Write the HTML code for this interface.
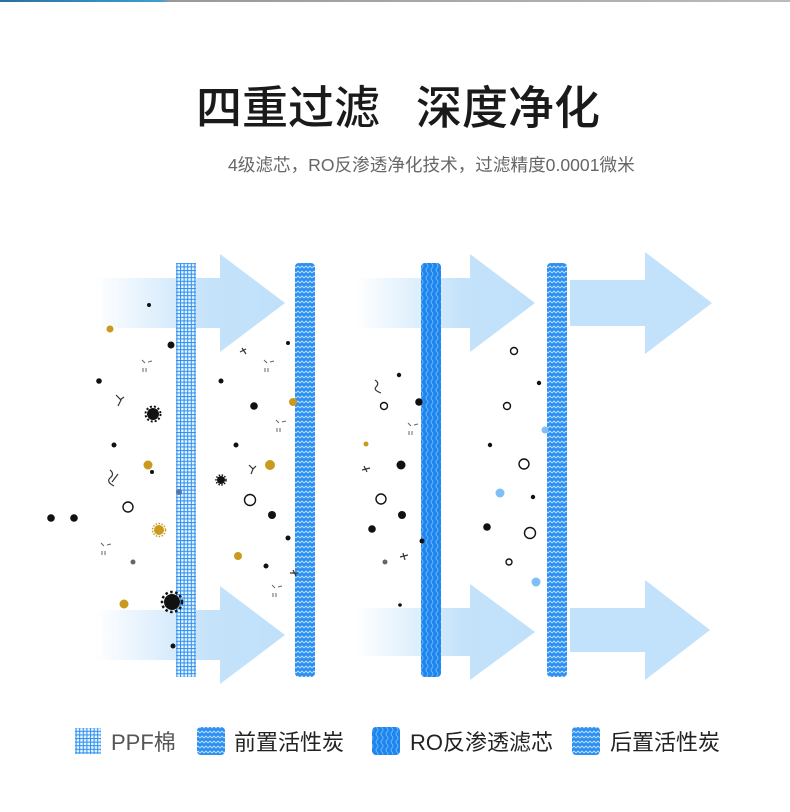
<!DOCTYPE html>
<html><head><meta charset="utf-8"><style>
html,body{margin:0;padding:0;background:#fff;}
body{width:790px;height:812px;position:relative;overflow:hidden;font-family:"Liberation Sans","Noto Sans CJK SC",sans-serif;}
.t{position:absolute;white-space:nowrap;}
</style></head><body>
<div style="position:absolute;left:0;top:0;width:790px;height:2px;background:linear-gradient(90deg,#2a6fa0 0,#3aa0d0 160px,#999 170px,#bbb 790px);"></div>
<div class="t" style="left:196px;top:80px;font-size:46px;line-height:56px;color:#1a1a1a;font-weight:500;">四重过滤</div>
<div class="t" style="left:416px;top:80px;font-size:46px;line-height:56px;color:#1a1a1a;font-weight:500;">深度净化</div>
<div class="t" style="left:228px;top:153px;font-size:17.6px;line-height:24px;color:#666;">4级滤芯，RO反渗透净化技术，过滤精度0.0001微米</div>

<svg width="790" height="812" style="position:absolute;left:0;top:0" xmlns="http://www.w3.org/2000/svg">
<defs>
<linearGradient id="fadeA" x1="0" x2="1" y1="0" y2="0">
<stop offset="0" stop-color="#c4e2fa" stop-opacity="0"/>
<stop offset="0.6" stop-color="#c4e2fa" stop-opacity="1"/>
<stop offset="1" stop-color="#c0e0fa"/>
</linearGradient>
<pattern id="grid" width="3.6" height="3.6" patternUnits="userSpaceOnUse">
<rect width="3.6" height="3.6" fill="#e8f4ff"/>
<path d="M0 0.5H3.6M0.5 0V3.6" stroke="#2a8ef0" stroke-width="1"/>
</pattern>
<pattern id="zig" width="8" height="5" patternUnits="userSpaceOnUse">
<rect width="8" height="5" fill="#2d8ff0"/>
<path d="M0 3L2 1L4 3L6 1L8 3" stroke="#bfe2ff" stroke-width="0.9" fill="none"/>
</pattern>
<pattern id="wave" width="5" height="8" patternUnits="userSpaceOnUse">
<rect width="5" height="8" fill="#1f86ee"/>
<path d="M2 0Q4 2 2 4Q0 6 2 8" stroke="#6fb8ff" stroke-width="0.9" fill="none"/>
</pattern>
</defs>

<g>
<path d="M95 278H220V254L285 303L220 352V328H95Z" fill="url(#fadeA)"/>
<path d="M95 610H220V586L285 635L220 684V660H95Z" fill="url(#fadeA)"/>
<path d="M355 278H470V254L535 303L470 352V328H355Z" fill="url(#fadeA)"/>
<path d="M355 608H470V584L535 632L470 680V656H355Z" fill="url(#fadeA)"/>
<path d="M570 280H645V252L712 303L645 354V326H570Z" fill="#c2e1fa"/>
<path d="M570 608H645V580L710 630L645 680V652H570Z" fill="#c2e1fa"/>
</g>

<rect x="176" y="263" width="20" height="414" fill="url(#grid)"/>
<rect x="295" y="263" width="20" height="414" rx="4" fill="url(#zig)"/>
<rect x="421" y="263" width="20" height="414" rx="4" fill="url(#wave)"/>
<rect x="547" y="263" width="20" height="414" rx="4" fill="url(#zig)"/>

<g fill="#111">
<circle cx="149" cy="305" r="2"/><circle cx="99" cy="381" r="2.8"/><circle cx="114" cy="445" r="2.5"/>
<circle cx="152" cy="472" r="2"/><circle cx="221" cy="381" r="2.5"/><circle cx="236" cy="445" r="2.5"/>
<circle cx="288" cy="343" r="2"/><circle cx="288" cy="538" r="2.5"/><circle cx="266" cy="566" r="2.5"/>
<circle cx="173" cy="646" r="2.5"/><circle cx="171" cy="345" r="3.5"/><circle cx="254" cy="406" r="3.8"/>
<circle cx="272" cy="515" r="4"/><circle cx="51" cy="518" r="3.8"/><circle cx="74" cy="518" r="3.8"/>
<circle cx="399" cy="375" r="2.2"/><circle cx="539" cy="383" r="2.2"/><circle cx="490" cy="445" r="2.2"/>
<circle cx="533" cy="497" r="2.2"/><circle cx="422" cy="541" r="2.5"/><circle cx="400" cy="605" r="1.8"/>
<circle cx="419" cy="402" r="3.8"/><circle cx="401" cy="465" r="4.5"/><circle cx="402" cy="515" r="4"/>
<circle cx="372" cy="529" r="3.8"/><circle cx="487" cy="527" r="3.8"/>
</g>
<g fill="#c99a1e">
<circle cx="110" cy="329" r="3.5"/><circle cx="148" cy="465" r="4.5"/><circle cx="293" cy="402" r="4"/>
<circle cx="270" cy="465" r="5"/><circle cx="238" cy="556" r="4"/><circle cx="124" cy="604" r="4.5"/>
<circle cx="366" cy="444" r="2.5"/>
</g>
<g fill="#666"><circle cx="133" cy="562" r="2.5"/><circle cx="385" cy="562" r="2.5"/><circle cx="179" cy="492" r="3" fill="#5577aa"/></g>
<g fill="none" stroke="#111" stroke-width="1.4">
<circle cx="128" cy="507" r="5"/><circle cx="250" cy="500" r="5.5"/><circle cx="384" cy="406" r="3.5"/>
<circle cx="381" cy="499" r="5"/><circle cx="514" cy="351" r="3.5"/><circle cx="507" cy="406" r="3.5"/>
<circle cx="524" cy="464" r="5"/><circle cx="530" cy="533" r="5.5"/><circle cx="509" cy="562" r="3"/>
</g>
<g fill="#7fbff5"><circle cx="500" cy="493" r="4.5"/><circle cx="536" cy="582" r="4.5"/><circle cx="545" cy="430" r="3.5"/></g>
<g fill="#111">
<circle cx="153" cy="414" r="6"/><circle cx="153" cy="414" r="7.5" fill="none" stroke="#111" stroke-width="2" stroke-dasharray="2 2"/>
<circle cx="221" cy="480" r="4"/><circle cx="221" cy="480" r="5" fill="none" stroke="#111" stroke-width="1.5" stroke-dasharray="1.5 1.5"/>
<circle cx="172" cy="602" r="8"/><circle cx="172" cy="602" r="10" fill="none" stroke="#111" stroke-width="2.5" stroke-dasharray="2.5 2.5"/>
</g>
<g fill="#c99a1e"><circle cx="159" cy="530" r="5"/><circle cx="159" cy="530" r="6.5" fill="none" stroke="#c99a1e" stroke-width="1.5" stroke-dasharray="1.5 1.5"/></g>
<g fill="none" stroke="#333" stroke-width="1.2">
<path d="M110 470q5 4 0 8q-4 4 4 8M118 474l-6 8"/>
<path d="M116 395l5 5l-3 6M120 400l4-3"/>
<path d="M240 352l6-3M242 348l4 6"/>
<path d="M249 465l4 4l-2 5M253 469l3-3"/>
<path d="M290 573l8 0M293 570l3 6"/>
<path d="M375 380q5 3 1 7q-3 3 5 6"/>
<path d="M362 470l8-2M364 466l3 6"/>
<path d="M400 557l8-2M403 553l2 7"/>
</g>
<g fill="none" stroke="#666" stroke-width="1">
<path d="M142 360l3 3M148 362l4 -1M143 368v4M146 368v4"/>
<path d="M264 360l3 3M270 362l4 -1M265 368v4M268 368v4"/>
<path d="M276 420l3 3M282 422l4 -1M277 428v4M280 428v4"/>
<path d="M101 543l3 3M107 545l4 -1M102 551v4M105 551v4"/>
<path d="M272 585l3 3M278 587l4 -1M273 593v4M276 593v4"/>
<path d="M408 423l3 3M414 425l4 -1M409 431v4M412 431v4"/>
</g>

<rect x="75" y="728" width="26" height="26" fill="url(#grid)"/>
<rect x="197" y="727" width="28" height="28" rx="4" fill="url(#zig)"/>
<rect x="372" y="727" width="28" height="28" rx="4" fill="url(#wave)"/>
<rect x="572" y="727" width="28" height="28" rx="4" fill="url(#zig)"/>
</svg>

<div class="t" style="left:111px;top:729px;font-size:22px;line-height:28px;color:#555;">PPF棉</div>
<div class="t" style="left:234px;top:729px;font-size:22px;line-height:28px;color:#222;">前置活性炭</div>
<div class="t" style="left:410px;top:729px;font-size:22px;line-height:28px;color:#222;">RO反渗透滤芯</div>
<div class="t" style="left:610px;top:729px;font-size:22px;line-height:28px;color:#222;">后置活性炭</div>
</body></html>
